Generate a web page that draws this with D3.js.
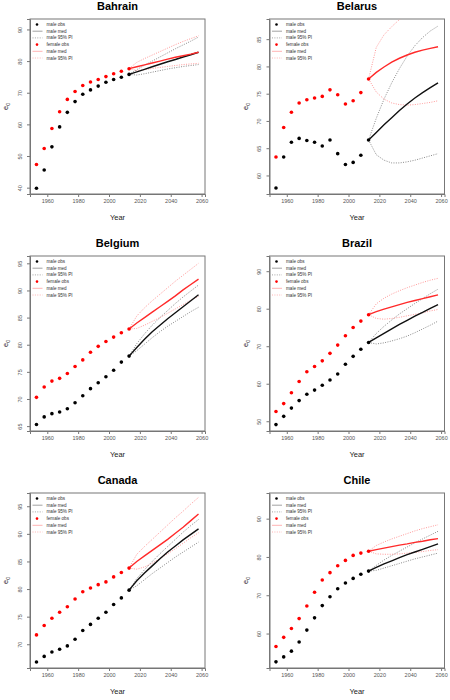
<!DOCTYPE html>
<html>
<head>
<meta charset="utf-8">
<script src="https://cdn.jsdelivr.net/npm/d3@7"></script>
<style>
html,body{margin:0;padding:0;background:#fff;}
svg{display:block;font-family:"Liberation Sans",Arial,Helvetica,sans-serif;}
</style>
</head>
<body>
<svg id="chart" width="450" height="700"></svg>
<script>
// ---------- data ----------
const countries = ["Bahrain", "Belarus", "Belgium", "Brazil", "Canada", "Chile"];
const obsYears = [1953, 1958, 1963, 1968, 1973, 1978, 1983, 1988, 1993, 1998, 2003, 2008, 2013];
const projYears = [2013, 2018, 2023, 2028, 2033, 2038, 2043, 2048, 2053, 2058];
const xTicks = [1960, 1980, 2000, 2020, 2040, 2060];
const legendLabels = ["male obs", "male med", "male 95% PI", "female obs", "male med", "male 95% PI"];

// Bahrain
const bahrainMaleObs   = [39.8, 45.6, 52.9, 59.2, 63.8, 67.2, 69.5, 70.9, 72.1, 73.3, 74.2, 74.9, 75.8];
const bahrainFemaleObs = [47.3, 52.4, 58.7, 64.0, 67.9, 70.4, 72.3, 73.4, 74.2, 75.1, 76.0, 76.8, 77.6];
const bahrainMaleMed   = [75.8, 76.6, 77.4, 78.2, 79.0, 79.8, 80.5, 81.3, 82.0, 82.8];
const bahrainMaleLo    = [75.8, 75.6, 76.0, 76.5, 77.0, 77.5, 77.9, 78.3, 78.6, 78.9];
const bahrainMaleHi    = [75.8, 77.3, 78.7, 80.0, 81.3, 82.6, 83.9, 85.1, 86.3, 87.6];
const bahrainFemaleMed = [77.6, 78.2, 78.8, 79.4, 80.0, 80.6, 81.2, 81.7, 82.2, 82.8];
const bahrainFemaleLo  = [77.6, 77.0, 77.3, 77.7, 78.0, 78.3, 78.6, 78.9, 79.1, 79.3];
const bahrainFemaleHi  = [77.6, 79.6, 80.8, 81.9, 83.0, 84.1, 85.2, 86.2, 87.1, 88.0];
const bahrainYTicks = [40, 50, 60, 70, 80, 90];
const bahrainYLim = [38.0, 93.3];

// Belarus
const belarusMaleObs   = [57.7, 63.4, 66.1, 66.8, 66.4, 66.1, 65.4, 66.5, 64.0, 62.0, 62.4, 63.7, 66.5];
const belarusFemaleObs = [63.4, 68.8, 71.6, 73.3, 73.9, 74.2, 74.5, 75.7, 74.8, 73.1, 73.7, 75.2, 77.7];
const belarusMaleMed   = [66.5, 67.9, 69.3, 70.6, 71.9, 73.1, 74.2, 75.2, 76.1, 77.0];
const belarusMaleLo    = [66.5, 63.8, 62.8, 62.3, 62.3, 62.5, 62.8, 63.2, 63.6, 64.0];
const belarusMaleHi    = [66.5, 70.5, 74.0, 77.0, 79.6, 81.9, 83.8, 85.3, 86.5, 87.4];
const belarusFemaleMed = [77.7, 78.9, 79.9, 80.8, 81.5, 82.1, 82.6, 83.0, 83.3, 83.6];
const belarusFemaleLo  = [77.7, 75.3, 74.0, 73.3, 73.0, 72.9, 73.0, 73.2, 73.4, 73.7];
const belarusFemaleHi  = [77.7, 83.5, 85.8, 87.3, 88.6, 89.8, 90.8, 91.7, 92.5, 93.2];
const belarusYTicks = [60, 65, 70, 75, 80, 85];
const belarusYLim = [56.6, 88.7];

// Belgium
const belgiumMaleObs   = [65.3, 66.7, 67.3, 67.6, 68.2, 69.3, 70.6, 71.9, 73.0, 74.1, 75.3, 76.8, 77.9];
const belgiumFemaleObs = [70.3, 72.2, 73.3, 73.8, 74.7, 76.0, 77.2, 78.6, 79.7, 80.6, 81.4, 82.2, 82.9];
const belgiumMaleMed   = [77.9, 79.5, 81.0, 82.4, 83.6, 84.8, 85.9, 87.0, 88.1, 89.2];
const belgiumMaleLo    = [77.9, 78.9, 80.1, 81.3, 82.4, 83.4, 84.3, 85.2, 86.1, 86.9];
const belgiumMaleHi    = [77.9, 80.2, 82.0, 83.6, 85.0, 86.3, 87.6, 88.8, 89.9, 91.0];
const belgiumFemaleMed = [82.9, 84.0, 85.0, 86.0, 87.0, 88.0, 89.0, 90.1, 91.1, 92.1];
const belgiumFemaleLo  = [82.9, 83.0, 83.6, 84.3, 85.0, 85.8, 86.6, 87.4, 88.2, 88.9];
const belgiumFemaleHi  = [82.9, 85.3, 86.8, 88.1, 89.3, 90.5, 91.7, 92.8, 93.9, 95.0];
const belgiumYTicks = [65, 70, 75, 80, 85, 90, 95];
const belgiumYLim = [64.1, 96.35];

// Brazil
const brazilMaleObs   = [49.1, 51.3, 53.5, 55.5, 57.2, 58.3, 59.6, 61.0, 62.6, 65.2, 67.3, 69.2, 71.0];
const brazilFemaleObs = [52.6, 54.7, 57.6, 60.6, 63.2, 64.6, 66.1, 68.1, 70.3, 72.8, 75.0, 76.7, 78.4];
const brazilMaleMed   = [71.0, 72.2, 73.4, 74.6, 75.8, 76.9, 78.0, 79.0, 80.1, 81.1];
const brazilMaleLo    = [71.0, 70.6, 70.9, 71.4, 72.0, 72.7, 73.6, 74.6, 75.6, 76.7];
const brazilMaleHi    = [71.0, 73.4, 75.3, 77.0, 78.6, 80.0, 81.4, 82.7, 84.0, 85.2];
const brazilFemaleMed = [78.4, 79.2, 79.9, 80.5, 81.1, 81.7, 82.2, 82.7, 83.2, 83.7];
const brazilFemaleLo  = [78.4, 77.4, 77.2, 77.4, 77.7, 78.1, 78.5, 78.9, 79.4, 79.8];
const brazilFemaleHi  = [78.4, 81.3, 82.8, 83.9, 84.8, 85.6, 86.3, 87.0, 87.6, 88.1];
const brazilYTicks = [50, 60, 70, 80, 90];
const brazilYLim = [47.4, 94.05];

// Canada
const canadaMaleObs   = [66.8, 67.8, 68.6, 69.1, 69.7, 70.9, 72.5, 73.6, 74.7, 75.8, 77.2, 78.4, 79.8];
const canadaFemaleObs = [71.7, 73.4, 74.7, 75.8, 76.8, 78.2, 79.5, 80.2, 80.8, 81.3, 82.2, 83.0, 83.8];
const canadaMaleMed   = [79.8, 81.5, 82.9, 84.2, 85.5, 86.7, 87.8, 88.9, 89.9, 90.9];
const canadaMaleLo    = [79.8, 80.6, 81.7, 82.8, 83.8, 84.8, 85.8, 86.7, 87.6, 88.5];
const canadaMaleHi    = [79.8, 81.9, 83.5, 85.0, 86.4, 87.7, 89.0, 90.3, 91.5, 92.6];
const canadaFemaleMed = [83.8, 85.0, 86.0, 87.0, 88.0, 89.0, 90.1, 91.2, 92.4, 93.6];
const canadaFemaleLo  = [83.8, 83.6, 84.0, 84.7, 85.5, 86.4, 87.3, 88.3, 89.3, 90.2];
const canadaFemaleHi  = [83.8, 86.3, 87.7, 89.0, 90.3, 91.6, 92.9, 94.1, 95.4, 96.6];
const canadaYTicks = [70, 75, 80, 85, 90, 95];
const canadaYLim = [65.7, 97.4];

// Chile
const chileMaleObs   = [52.6, 53.9, 55.4, 57.8, 60.9, 64.1, 67.3, 69.6, 71.7, 73.2, 74.4, 75.5, 76.3];
const chileFemaleObs = [56.6, 59.0, 61.3, 63.9, 67.2, 70.8, 74.0, 75.9, 77.7, 79.1, 80.4, 81.0, 81.5];
const chileMaleMed   = [76.3, 77.3, 78.2, 79.0, 79.8, 80.6, 81.3, 82.0, 82.7, 83.4];
const chileMaleLo    = [76.3, 76.5, 77.1, 77.7, 78.3, 78.9, 79.5, 80.0, 80.5, 81.0];
const chileMaleHi    = [76.3, 77.8, 79.2, 80.4, 81.5, 82.6, 83.7, 84.7, 85.7, 86.7];
const chileFemaleMed = [81.5, 81.9, 82.3, 82.7, 83.1, 83.4, 83.8, 84.1, 84.5, 84.8];
const chileFemaleLo  = [81.5, 80.8, 80.7, 80.7, 80.8, 81.0, 81.2, 81.4, 81.7, 81.9];
const chileFemaleHi  = [81.5, 83.0, 83.9, 84.7, 85.4, 86.1, 86.8, 87.4, 87.9, 88.4];
const chileYTicks = [60, 70, 80, 90];
const chileYLim = [51.0, 96.7];

const panels = [
  {name: countries[0], mObs: bahrainMaleObs, fObs: bahrainFemaleObs, mMed: bahrainMaleMed, mLo: bahrainMaleLo, mHi: bahrainMaleHi, fMed: bahrainFemaleMed, fLo: bahrainFemaleLo, fHi: bahrainFemaleHi, yTicks: bahrainYTicks, yLim: bahrainYLim},
  {name: countries[1], mObs: belarusMaleObs, fObs: belarusFemaleObs, mMed: belarusMaleMed, mLo: belarusMaleLo, mHi: belarusMaleHi, fMed: belarusFemaleMed, fLo: belarusFemaleLo, fHi: belarusFemaleHi, yTicks: belarusYTicks, yLim: belarusYLim},
  {name: countries[2], mObs: belgiumMaleObs, fObs: belgiumFemaleObs, mMed: belgiumMaleMed, mLo: belgiumMaleLo, mHi: belgiumMaleHi, fMed: belgiumFemaleMed, fLo: belgiumFemaleLo, fHi: belgiumFemaleHi, yTicks: belgiumYTicks, yLim: belgiumYLim},
  {name: countries[3], mObs: brazilMaleObs, fObs: brazilFemaleObs, mMed: brazilMaleMed, mLo: brazilMaleLo, mHi: brazilMaleHi, fMed: brazilFemaleMed, fLo: brazilFemaleLo, fHi: brazilFemaleHi, yTicks: brazilYTicks, yLim: brazilYLim},
  {name: countries[4], mObs: canadaMaleObs, fObs: canadaFemaleObs, mMed: canadaMaleMed, mLo: canadaMaleLo, mHi: canadaMaleHi, fMed: canadaFemaleMed, fLo: canadaFemaleLo, fHi: canadaFemaleHi, yTicks: canadaYTicks, yLim: canadaYLim},
  {name: countries[5], mObs: chileMaleObs, fObs: chileFemaleObs, mMed: chileMaleMed, mLo: chileMaleLo, mHi: chileMaleHi, fMed: chileFemaleMed, fLo: chileFemaleLo, fHi: chileFemaleHi, yTicks: chileYTicks, yLim: chileYLim}
];

// ---------- layout ----------
const colX = [30, 269.5];
const rowY = [19, 256, 493];
const boxW = 175, boxH = 175;
const xDomain = [1948.8, 2062.2];

const svg = d3.select("#chart");
const axisCol = "#777";
const tickTextCol = "#555";

panels.forEach((p, i) => {
  const bx = colX[i % 2], by = rowY[Math.floor(i / 2)];
  const g = svg.append("g").attr("transform", `translate(${bx},${by})`);
  const x = d3.scaleLinear().domain(xDomain).range([0, boxW]);
  const y = d3.scaleLinear().domain(p.yLim).range([boxH, 0]);

  const clipId = "clip" + i;
  g.append("clipPath").attr("id", clipId)
    .append("rect").attr("x", 0).attr("y", 0).attr("width", boxW).attr("height", boxH);

  // title
  g.append("text").attr("x", boxW / 2).attr("y", -9)
    .attr("text-anchor", "middle").attr("font-size", 11).attr("font-weight", "bold")
    .attr("fill", "#000").text(p.name);

  // axes
  const xAxis = d3.axisBottom(x).tickValues(xTicks).tickSize(3).tickPadding(2).tickFormat(d3.format("d"));
  const xg = g.append("g").attr("transform", `translate(0,${boxH})`).call(xAxis);
  xg.select(".domain").attr("stroke", axisCol);
  xg.selectAll(".tick line").attr("stroke", axisCol);
  xg.selectAll(".tick text").attr("font-size", 5.5).attr("fill", tickTextCol)
    .attr("font-family", "Liberation Sans, Arial, sans-serif");

  const yAxis = d3.axisLeft(y).tickValues(p.yTicks).tickSize(3).tickFormat(d3.format("d"));
  const yg = g.append("g").call(yAxis);
  yg.select(".domain").attr("stroke", axisCol);
  yg.selectAll(".tick line").attr("stroke", axisCol);
  yg.selectAll(".tick text")
    .attr("font-size", 5.5).attr("fill", tickTextCol)
    .attr("font-family", "Liberation Sans, Arial, sans-serif")
    .attr("x", null).attr("dy", null)
    .attr("text-anchor", "middle")
    .attr("dominant-baseline", "central")
    .attr("transform", "translate(-10.5,0) rotate(-90)");

  // box
  g.append("rect").attr("x", 0).attr("y", 0).attr("width", boxW).attr("height", boxH)
    .attr("fill", "none").attr("stroke", axisCol).attr("stroke-width", 1);

  // axis titles
  g.append("text").attr("x", boxW / 2).attr("y", boxH + 26)
    .attr("text-anchor", "middle").attr("font-size", 7.5).attr("fill", "#222").text("Year");
  const yl = g.append("text")
    .attr("transform", `translate(-22,${boxH / 2}) rotate(-90)`)
    .attr("text-anchor", "middle").attr("font-size", 7.5).attr("fill", "#222");
  yl.append("tspan").text("e");
  yl.append("tspan").attr("font-size", 5).attr("dy", 2).text("0");

  // plot contents
  const pg = g.append("g").attr("clip-path", `url(#${clipId})`);
  const line = d3.line().x((d, k) => x(projYears[k])).y(d => y(d));

  const pi = [
    {v: p.mHi, c: "#8a8a8a"}, {v: p.mLo, c: "#8a8a8a"},
    {v: p.fHi, c: "#ff9a9a"}, {v: p.fLo, c: "#ff9a9a"}
  ];
  pi.forEach(s => {
    pg.append("path").datum(s.v).attr("d", line)
      .attr("fill", "none").attr("stroke", s.c).attr("stroke-width", 1)
      .attr("stroke-dasharray", "1,1.4");
  });
  pg.append("path").datum(p.mMed).attr("d", line)
    .attr("fill", "none").attr("stroke", "#111").attr("stroke-width", 1.4);
  pg.append("path").datum(p.fMed).attr("d", line)
    .attr("fill", "none").attr("stroke", "#ff2a2a").attr("stroke-width", 1.4);

  pg.selectAll("circle.m").data(p.mObs).join("circle").attr("class", "m")
    .attr("cx", (d, k) => x(obsYears[k])).attr("cy", d => y(d)).attr("r", 1.8).attr("fill", "#000");
  pg.selectAll("circle.f").data(p.fObs).join("circle").attr("class", "f")
    .attr("cx", (d, k) => x(obsYears[k])).attr("cy", d => y(d)).attr("r", 1.8).attr("fill", "#ff0000");

  // legend
  const lg = g.append("g").attr("transform", "translate(0,5.5)");
  const lstep = 6.7;
  const styles = [
    {type: "pt", c: "#000"}, {type: "ln", c: "#999", dash: null}, {type: "ln", c: "#999", dash: "1,1.4"},
    {type: "pt", c: "#ff0000"}, {type: "ln", c: "#ffaaaa", dash: null}, {type: "ln", c: "#ffaaaa", dash: "1,1.4"}
  ];
  legendLabels.forEach((lab, k) => {
    const yy = k * lstep;
    const st = styles[k];
    if (st.type === "pt") {
      lg.append("circle").attr("cx", 7).attr("cy", yy).attr("r", 1.3).attr("fill", st.c);
    } else {
      const l = lg.append("line").attr("x1", 2.5).attr("x2", 12.5).attr("y1", yy).attr("y2", yy)
        .attr("stroke", st.c).attr("stroke-width", 0.9);
      if (st.dash) l.attr("stroke-dasharray", st.dash);
    }
    lg.append("text").attr("x", 16.5).attr("y", yy).attr("dominant-baseline", "central")
      .attr("font-size", 4.6).attr("fill", "#333").text(lab);
  });
});
</script>
</body>
</html>
